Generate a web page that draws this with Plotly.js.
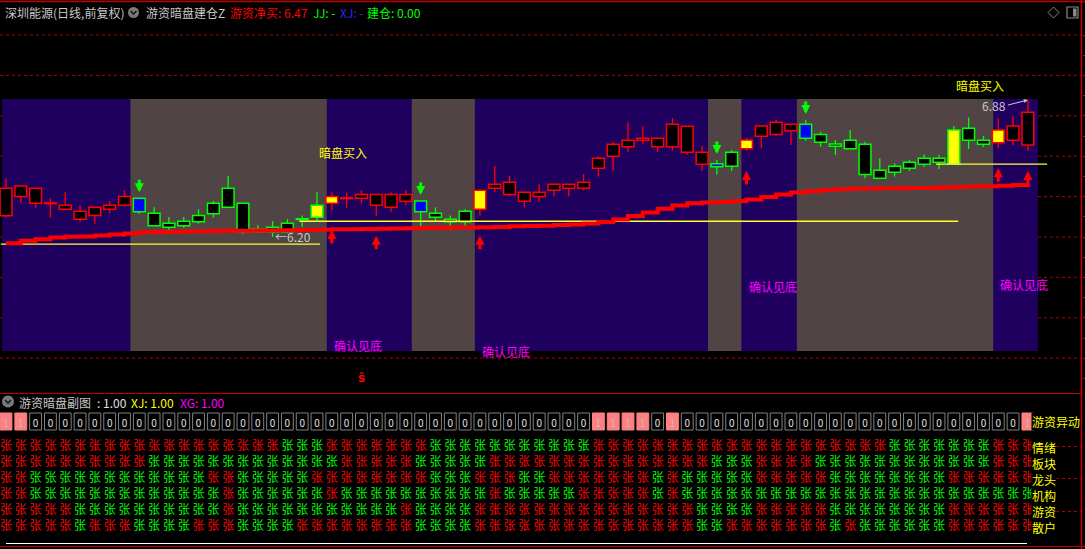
<!DOCTYPE html>
<html><head><meta charset="utf-8">
<script src="https://cdn.plot.ly/plotly-3.0.1.min.js"></script>
<style>html,body{margin:0;padding:0;background:#000;overflow:hidden}#chart{width:1085px;height:549px}</style>
</head><body><div id="chart"></div>
<script>
// ---------- main panel data (price) ----------
const openP  = [6.305,6.400,6.367,6.367,6.337,6.288,6.307,6.337,6.357,6.392,
                6.317,6.268,6.278,6.307,6.367,6.441,6.367,6.238,6.248,6.268,
                6.289,6.357,6.367,6.392,6.392,6.357,6.347,6.377,6.378,6.317,
                6.288,6.327,6.337,6.441,6.411,6.377,6.401,6.431,6.441,6.441,
                6.540,6.600,6.647,6.679,6.647,6.647,6.619,6.560,6.563,6.619,
                6.637,6.699,6.708,6.726,6.758,6.708,6.660,6.679,6.659,6.530,
                6.550,6.570,6.590,6.590,6.730,6.738,6.679,6.667,6.679,6.655];
const highP  = [6.491,6.452,6.441,6.392,6.421,6.357,6.347,6.378,6.431,6.392,
                6.347,6.299,6.299,6.337,6.378,6.502,6.367,6.259,6.279,6.288,
                6.307,6.421,6.421,6.421,6.431,6.411,6.421,6.431,6.378,6.347,
                6.307,6.337,6.431,6.551,6.502,6.421,6.461,6.461,6.461,6.512,
                6.600,6.670,6.768,6.748,6.689,6.788,6.748,6.650,6.581,6.631,
                6.692,6.750,6.779,6.758,6.779,6.721,6.680,6.730,6.672,6.590,
                6.565,6.581,6.609,6.606,6.750,6.791,6.701,6.788,6.800,6.878];
const lowP   = [6.296,6.367,6.345,6.296,6.337,6.274,6.266,6.317,6.357,6.314,
                6.256,6.226,6.246,6.266,6.296,6.347,6.216,6.220,6.200,6.222,
                6.251,6.279,6.334,6.345,6.367,6.305,6.325,6.357,6.235,6.279,
                6.235,6.256,6.305,6.421,6.401,6.347,6.375,6.401,6.401,6.431,
                6.499,6.528,6.619,6.659,6.619,6.629,6.609,6.527,6.510,6.527,
                6.626,6.639,6.697,6.655,6.677,6.647,6.606,6.637,6.491,6.491,
                6.499,6.527,6.547,6.537,6.560,6.636,6.646,6.639,6.655,6.626];
const closeP = [6.441,6.452,6.441,6.367,6.357,6.327,6.347,6.357,6.401,6.325,
                6.256,6.248,6.256,6.276,6.315,6.347,6.226,6.226,6.226,6.226,
                6.288,6.298,6.401,6.392,6.411,6.411,6.411,6.411,6.325,6.298,
                6.276,6.276,6.431,6.461,6.471,6.421,6.421,6.461,6.461,6.471,
                6.590,6.659,6.679,6.689,6.689,6.758,6.748,6.619,6.548,6.550,
                6.680,6.750,6.768,6.758,6.689,6.669,6.649,6.637,6.510,6.491,
                6.520,6.540,6.560,6.570,6.560,6.679,6.659,6.730,6.750,6.817];
const maLine = [6.169,6.182,6.189,6.197,6.201,6.203,6.207,6.212,6.217,6.223,
                6.225,6.226,6.227,6.228,6.230,6.231,6.231,6.232,6.233,6.234,
                6.235,6.236,6.238,6.238,6.240,6.241,6.242,6.243,6.245,6.246,
                6.247,6.247,6.248,6.250,6.253,6.254,6.256,6.259,6.262,6.267,
                6.274,6.287,6.304,6.321,6.340,6.356,6.367,6.371,6.373,6.378,
                6.386,6.398,6.410,6.420,6.427,6.432,6.437,6.439,6.440,6.441,
                6.441,6.442,6.443,6.446,6.448,6.450,6.451,6.454,6.458,6.467];
const blueIdx      = [9, 28, 48, 54];
const yellowIdx    = [21, 22, 32, 50, 64, 67];
const anpanIdx     = [21, 64];            // 暗盘买入
const confirmIdx   = [22, 32, 50, 67];    // 确认见底
const upArrowIdx   = [22, 25, 32, 50, 67, 69];
const downArrowIdx = [9, 28, 48, 54];
const brownZones   = [[9, 21], [28, 31], [48, 49], [54, 66]];
const lowMarkIdx = 18, highMarkIdx = 69;
const levelValues = [6.165, 6.278, 6.561];
const levelFrom   = [-0.35, 19.8, 62.8];
const levelTo     = [21.2, 64.3, 70.3];
const gridPrices  = [5.6, 5.8, 6.0, 6.2, 6.4, 6.6, 6.8, 7.0, 7.2];

// ---------- sub panel data ----------
const rowNames = ['情绪', '板块', '龙头', '机构', '游资', '散户'];
const rowQingxu  = [1,1,1,1,1,1,1,1,1,1, 1,1,1,1,1,1,1,1,1,0, 0,0,1,1,1,1,1,1,1,0, 0,0,0,0,0,0,0,0,0,0, 1,1,1,1,1,1,1,1,1,1, 1,1,1,1,1,1,1,1,1,1, 0,0,0,0,0,0,0,1,1,1];
const rowBankuai = [1,1,1,1,1,1,1,1,1,1, 0,0,0,0,0,0,0,0,0,0, 0,0,0,1,1,1,1,1,0,0, 0,0,0,1,1,1,1,1,1,1, 1,1,1,1,1,1,1,1,0,0, 0,1,1,1,1,0,0,0,0,0, 0,0,0,0,0,0,0,1,1,1];
const rowLongtou = [1,1,0,0,0,0,0,0,0,0, 0,0,0,0,1,1,0,0,0,0, 0,1,1,1,1,1,1,1,1,0, 0,0,1,1,1,0,0,1,1,1, 1,1,1,1,0,1,0,0,0,0, 0,1,1,1,1,1,0,0,0,0, 0,0,0,0,1,1,1,1,1,1];
const rowJigou   = [1,1,0,0,0,0,0,0,0,0, 0,0,0,0,0,1,0,0,0,0, 0,0,1,0,0,0,0,0,0,0, 0,0,0,1,0,0,0,0,0,1, 1,1,1,1,0,1,0,0,0,0, 0,0,0,0,0,0,0,0,0,0, 0,0,0,0,0,0,0,0,0,0];
const rowYouzi   = [1,1,1,1,1,0,0,0,0,0, 0,0,0,0,0,1,0,0,0,0, 0,0,0,0,0,0,0,1,0,0, 0,0,1,1,1,1,1,1,1,1, 1,1,1,1,1,1,1,0,0,0, 0,1,1,1,1,1,0,0,0,0, 0,0,0,0,1,1,1,1,1,1];
const rowSanhu   = [1,1,1,1,1,0,1,1,1,0, 0,0,0,1,1,1,0,0,0,0, 1,1,1,1,1,1,1,1,0,0, 0,0,1,1,1,1,1,1,1,1, 1,1,1,1,1,1,1,0,0,1, 1,1,1,1,1,1,0,1,0,0, 0,0,0,0,1,1,1,1,1,1];
const yidong     = [1,1,0,0,0,0,0,0,0,0, 0,0,0,0,0,0,0,0,0,0, 0,0,0,0,0,0,0,0,0,0, 0,0,0,0,0,0,0,0,0,0, 1,1,1,1,0,1,0,0,0,0, 0,0,0,0,0,0,0,0,0,0, 0,0,0,0,0,0,0,0,0,1];

// ---------- geometry helpers ----------
const W = 1085, H = 549;
const px = x => x / W;
const py = y => 1 - y / H;
const FONT = 'Noto Sans CJK SC, Noto Sans, sans-serif';
const RED = '#ff0000', GREEN = '#00ff00', YEL = '#ffff00', MAG = '#ff00ff', GRAY = '#c8c8c8';
const N = openP.length;
const idx = Array.from({length: N}, (_, i) => i);
const isUp = idx.map(i => closeP[i] >= openP[i]);

// candle bodies
const minBody = 0.004;
const bodyBase = idx.map(i => {
  const lo = Math.min(openP[i], closeP[i]), d = Math.abs(closeP[i] - openP[i]);
  return d < minBody ? lo - (minBody - d) / 2 : lo;
});
const bodyH = idx.map(i => Math.max(Math.abs(closeP[i] - openP[i]), minBody));
const edgeCol = idx.map(i => isUp[i] ? RED : GREEN);
const fillCol = idx.map(i => blueIdx.includes(i) ? '#0000ff' : (yellowIdx.includes(i) ? YEL : '#000000'));

function wickTrace(up, color) {
  const xs = [], ys = [];
  idx.forEach(i => {
    if (isUp[i] !== up) return;
    const top = Math.max(openP[i], closeP[i]), bot = Math.min(openP[i], closeP[i]);
    if (highP[i] > top) { xs.push(i, i, null); ys.push(top, highP[i], null); }
    if (lowP[i] < bot) { xs.push(i, i, null); ys.push(bot, lowP[i], null); }
  });
  return {type: 'scatter', mode: 'lines', x: xs, y: ys, xaxis: 'x', yaxis: 'y',
          line: {color: color, width: 1.3}, hoverinfo: 'skip', showlegend: false};
}

const traces = [];
traces.push(wickTrace(true, RED));
traces.push(wickTrace(false, GREEN));
traces.push({type: 'bar', x: idx, y: bodyH, base: bodyBase, width: 0.8, xaxis: 'x', yaxis: 'y',
  marker: {color: fillCol, line: {color: edgeCol, width: 1.5}}, hoverinfo: 'skip', showlegend: false});
// level lines
levelValues.forEach((v, k) => traces.push({type: 'scatter', mode: 'lines', x: [levelFrom[k], levelTo[k]], y: [v, v],
  xaxis: 'x', yaxis: 'y', line: {color: '#ffff30', width: 1.3}, hoverinfo: 'skip', showlegend: false}));
// MA
traces.push({type: 'scatter', mode: 'lines', x: idx, y: maLine, xaxis: 'x', yaxis: 'y',
  line: {color: RED, width: 4, shape: 'hv'}, hoverinfo: 'skip', showlegend: false});

// sub panel: signal boxes
traces.push({type: 'bar', x: idx, y: idx.map(() => 1.0625), base: idx.map(() => -1.125), width: 0.8,
  xaxis: 'x', yaxis: 'y2',
  marker: {color: yidong.map(v => v ? '#ff8080' : '#000000'), line: {color: yidong.map(v => v ? '#ff8080' : '#808080'), width: 1}},
  hoverinfo: 'skip', showlegend: false});
traces.push({type: 'scatter', mode: 'text', x: idx, y: idx.map(() => -0.4), text: yidong.map(v => String(v)),
  xaxis: 'x', yaxis: 'y2', textfont: {family: FONT, size: 10, color: yidong.map(v => v ? '#bdbdbd' : '#e0e0e0')},
  hoverinfo: 'skip', showlegend: false});
// sub panel: 张 grid (the last column sits under the row labels, as in the source)
const rows = [rowQingxu, rowBankuai, rowLongtou, rowJigou, rowYouzi, rowSanhu];
const gx = [], gy = [], gt = [], gc = [];
rows.forEach((arr, r) => arr.forEach((v, i) => { gx.push(i); gy.push(r + 1); gt.push('张'); gc.push(v ? RED : GREEN); }));
traces.push({type: 'scatter', mode: 'text', x: gx, y: gy, text: gt, xaxis: 'x', yaxis: 'y2',
  textfont: {family: FONT, size: 12, color: gc}, hoverinfo: 'skip', showlegend: false});

// ---------- shapes ----------
const xMin = -6 / 14.81, xMax = (W - 6) / 14.81;
const bandTop = 6.883, bandBot = 5.636;
const shapes = [];
gridPrices.forEach(p => shapes.push({type: 'line', layer: 'below', xref: 'paper', yref: 'y', x0: 0, x1: px(1081), y0: p, y1: p,
  line: {color: '#b00000', width: 1, dash: 'dot'}}));
shapes.push({type: 'rect', layer: 'below', xref: 'x', yref: 'y', x0: -0.27, x1: N - 1 + 0.68, y0: bandBot, y1: bandTop,
  fillcolor: '#20005f', line: {width: 0}});
brownZones.forEach(z => shapes.push({type: 'rect', layer: 'below', xref: 'x', yref: 'y', x0: z[0] - 0.6, x1: z[1] + 0.66,
  y0: bandBot, y1: bandTop, fillcolor: '#504444', line: {width: 0}}));
// frame lines
const frame = (x0, y0, x1, y1, color, w, dash) => shapes.push({type: 'line', xref: 'paper', yref: 'paper',
  x0: px(x0), y0: py(y0), x1: px(x1), y1: py(y1), line: {color: color, width: w, dash: dash || 'solid'}});
frame(0, 1.5, W, 1.5, '#c00000', 1.5);
frame(1081.5, 0, 1081.5, H, '#c00000', 1.5);
frame(0, 393.5, 1081.5, 393.5, '#c00000', 1.2);
frame(6, 543.5, 1027, 543.5, '#ffffff', 1.2);
frame(0, 546.5, W, 546.5, '#c00000', 1.2);
[446.5, 478.5, 511.5].forEach(y => frame(1056, y, 1081, y, '#b00000', 1, 'dot'));
// icons
const circ = (cx, cy, r) => shapes.push({type: 'circle', xref: 'paper', yref: 'paper', x0: px(cx - r), x1: px(cx + r),
  y0: py(cy + r), y1: py(cy - r), fillcolor: '#7a7a7a', line: {width: 0}});
const pathPx = (pts, color, w, fill) => shapes.push({type: 'path', xref: 'paper', yref: 'paper',
  path: pts.map((p, k) => (k ? 'L' : 'M') + px(p[0]) + ',' + py(p[1])).join(' ') + (fill ? ' Z' : ''),
  line: {color: color, width: w}, fillcolor: fill || 'rgba(0,0,0,0)'});
circ(133.5, 12.5, 5.5);
pathPx([[130.5, 11], [133.5, 14], [136.5, 11]], '#1a1a1a', 1.6);
circ(8, 401.5, 6);
pathPx([[5, 400], [8, 403], [11, 400]], '#1a1a1a', 1.6);
pathPx([[1053.5, 7], [1059, 12.5], [1053.5, 18], [1048, 12.5]], '#8a8a8a', 1, '#000000');
shapes.push({type: 'rect', xref: 'paper', yref: 'paper', x0: px(1067), x1: px(1078), y0: py(18), y1: py(7),
  line: {color: '#8a8a8a', width: 1.2}, fillcolor: '#000000'});
shapes.push({type: 'rect', xref: 'paper', yref: 'paper', x0: px(1073), x1: px(1076.5), y0: py(16.5), y1: py(8.5),
  line: {width: 0}, fillcolor: '#8a8a8a'});

// ---------- annotations ----------
const ann = [];
const txt = (x, y, s, color, size, anchor) => ann.push({xref: 'paper', yref: 'paper', x: px(x), y: py(y), text: s,
  showarrow: false, xanchor: anchor || 'left', yanchor: 'middle', font: {family: FONT, size: size || 12, color: color}});
txt(3, 12, '深圳能源(日线,前复权)', GRAY);
txt(144, 12, '游资暗盘建仓Z', GRAY);
txt(228, 12, '游资净买: ' + maLine[N - 1].toFixed(2), RED);
txt(311, 12, 'JJ: -', GREEN);
txt(338, 12, 'XJ: -', '#2a2aff');
txt(365, 12, '建仓: 0.00', GREEN);
txt(17, 402, '游资暗盘副图', GRAY);
txt(95, 402, ': 1.00', '#e0e0e0');
txt(129, 402, 'XJ: 1.00', YEL);
txt(178, 402, 'XG: 1.00', MAG);
// red s marker
ann.push({xref: 'x', yref: 'paper', x: 24, y: py(387), text: '<b>ŝ</b>', showarrow: false,
  font: {family: 'DejaVu Sans', size: 12, color: RED}});
anpanIdx.forEach(i => ann.push({xref: 'x', yref: 'y', x: i, y: highP[i], yshift: 40, text: '暗盘买入', showarrow: false,
  xanchor: 'left', yanchor: 'middle', font: {family: FONT, size: 12, color: YEL}}));
confirmIdx.forEach(i => ann.push({xref: 'x', yref: 'y', x: i, y: lowP[i], yshift: -136, text: '确认见底', showarrow: false,
  xanchor: 'left', yanchor: 'middle', font: {family: FONT, size: 12, color: MAG}}));
upArrowIdx.forEach(i => ann.push({xref: 'x', yref: 'y', x: i, y: lowP[i], yshift: -20, ax: 0, ay: 15, text: '',
  showarrow: true, arrowhead: 2, arrowwidth: 3, arrowsize: 0.6, arrowcolor: RED, standoff: 0}));
downArrowIdx.forEach(i => ann.push({xref: 'x', yref: 'y', x: i, y: highP[i], yshift: 6, ax: 0, ay: -14, text: '',
  showarrow: true, arrowhead: 2, arrowwidth: 3, arrowsize: 0.6, arrowcolor: GREEN, standoff: 0}));
ann.push({xref: 'x', yref: 'y', x: lowMarkIdx, y: lowP[lowMarkIdx], text: '←' + lowP[lowMarkIdx].toFixed(2), showarrow: false,
  xanchor: 'left', yanchor: 'middle', font: {family: FONT, size: 12, color: GRAY}});
ann.push({xref: 'x', yref: 'y', x: highMarkIdx, y: highP[highMarkIdx], text: highP[highMarkIdx].toFixed(2), showarrow: true,
  ax: -20, ay: 5, xanchor: 'right', yanchor: 'middle', arrowhead: 2, arrowsize: 0.8, arrowwidth: 1, arrowcolor: GRAY, standoff: 0,
  font: {family: FONT, size: 12, color: GRAY}});
// right-side labels of sub panel
ann.push({xref: 'paper', yref: 'y2', x: px(1031), y: -0.625, text: '游资异动', showarrow: false, xanchor: 'left', yanchor: 'middle',
  bgcolor: '#000000', borderpad: 0, font: {family: FONT, size: 12, color: YEL}});
rowNames.forEach((nm, r) => ann.push({xref: 'paper', yref: 'y2', x: px(1031), y: r + 1, text: nm, showarrow: false,
  xanchor: 'left', yanchor: 'middle', bgcolor: '#000000', borderpad: 0, font: {family: FONT, size: 12, color: YEL}}));

const layout = {
  width: W, height: H, autosize: false,
  margin: {l: 0, r: 0, t: 0, b: 0, pad: 0},
  paper_bgcolor: '#000000', plot_bgcolor: '#000000',
  showlegend: false, barmode: 'overlay',
  xaxis: {domain: [0, 1], range: [xMin, xMax], showgrid: false, zeroline: false, showticklabels: false, ticks: '', showline: false, fixedrange: true},
  yaxis: {domain: [py(385), py(30)], range: [6.2 - 148 / 202, 6.2 + 207 / 202], showgrid: false, zeroline: false,
          showticklabels: false, ticks: 'outside', ticklen: 3, tickcolor: '#c00000', dtick: 0.1, tick0: 0,
          side: 'right', anchor: 'free', position: px(1082), showline: false, fixedrange: true},
  yaxis2: {domain: [0, py(395)], range: [7.375, -2.25], showgrid: false, zeroline: false, showticklabels: false,
           ticks: '', showline: false, fixedrange: true},
  shapes: shapes, annotations: ann
};
Plotly.newPlot('chart', traces, layout, {staticPlot: true, displayModeBar: false});
</script></body></html>
